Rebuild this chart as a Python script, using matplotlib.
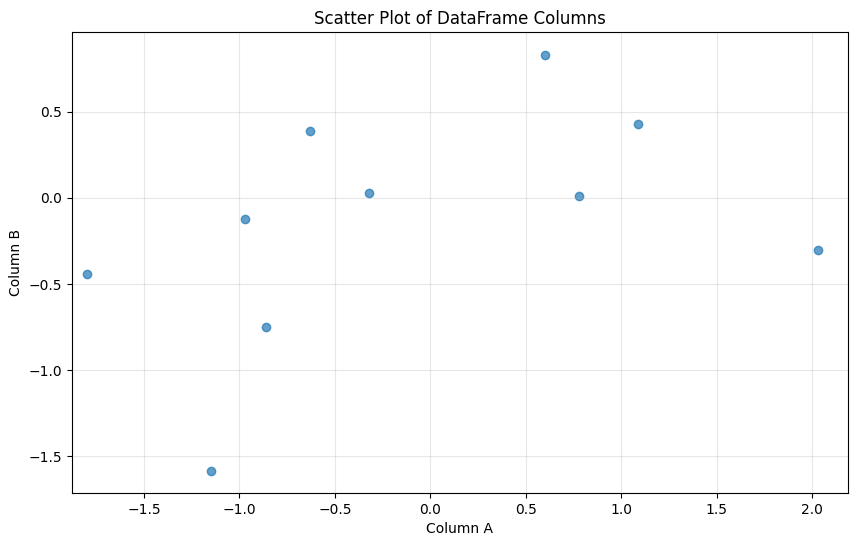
import matplotlib.pyplot as plt

col_a = [-1.80, -1.15, -0.97, -0.86, -0.63, -0.32, 0.60, 0.78, 1.09, 2.03]
col_b = [-0.44, -1.59, -0.12, -0.75, 0.39, 0.03, 0.83, 0.01, 0.43, -0.30]

fig = plt.figure(figsize=(8.57, 5.47), dpi=100)
ax = fig.add_axes([72 / 857, 1 - 493 / 547, 776 / 857, 461 / 547])
ax.scatter(col_a, col_b, alpha=0.7)
ax.set_xlim(-1.877, 2.189)
ax.set_ylim(-1.715, 0.965)
ax.set_xlabel('Column A')
ax.set_ylabel('Column B')
ax.set_title('Scatter Plot of DataFrame Columns')
ax.grid(True, alpha=0.3)
fig.savefig('out.png', dpi=100)
